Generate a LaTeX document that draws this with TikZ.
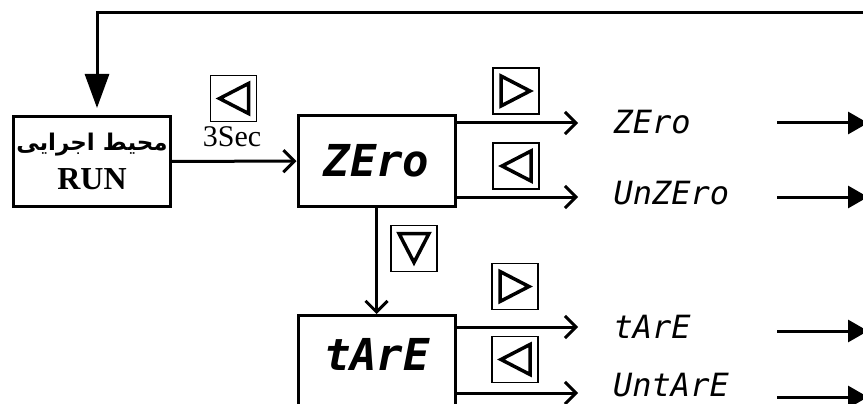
\documentclass[tikz,border=0pt]{standalone}
\usepackage{fontspec}
\setmainfont{Liberation Serif}
\newfontfamily\arabicfont[Script=Arabic]{DejaVu Sans}
\newfontfamily\segfont{DejaVu Sans Mono}
\TeXXeTstate=1
\usetikzlibrary{arrows.meta,positioning,calc}
\tikzset{
  >=Stealth,
  blk/.style={draw, line width=3pt, minimum width=157pt, minimum height=90pt, inner sep=0pt},
  btn/.style={draw, line width=1.5pt, minimum size=46pt, inner sep=0pt},
  tri/.style={line width=3.5pt, line join=miter},
  btnL/.style={btn, path picture={\draw[tri, shift={(path picture bounding box.center)}] (-14pt,0pt) -- (15pt,15pt) -- (15pt,-15pt) -- cycle;}},
  btnR/.style={btn, path picture={\draw[tri, shift={(path picture bounding box.center)}] (14pt,0pt) -- (-15pt,15pt) -- (-15pt,-15pt) -- cycle;}},
  btnD/.style={btn, path picture={\draw[tri, shift={(path picture bounding box.center)}] (0pt,-14pt) -- (-15pt,15pt) -- (15pt,15pt) -- cycle;}},
  conn/.style={line width=3pt, -{Straight Barb[length=11pt,width=22pt,line width=3pt]}},
  outarr/.style={line width=3pt, -{Triangle[length=20pt,width=22pt]}},
  seg/.style={font=\segfont\itshape\fontsize{32}{32}\selectfont},
  segbig/.style={font=\segfont\bfseries\itshape\fontsize{44}{44}\selectfont},
}
\begin{document}
\begin{tikzpicture}[x=1pt,y=-1pt]
    \useasboundingbox (0,0) rectangle (863,404);
    \clip (0,0) rectangle (863,404);

    % === Blocks ===
    \node[blk, align=center] (run) at (92,161.5)
        {{\arabicfont\bfseries\fontsize{23}{24}\selectfont\beginR محیط اجرایی\endR}\\[12pt]
         {\bfseries\fontsize{32}{32}\selectfont RUN}};
    \node[blk, segbig] (zero) at (376.5,161) {ZEro};
    \node[blk, anchor=north, minimum height=100pt,
          label={[segbig, yshift=11pt]center:tArE}] (tare) at (377,314) {};

    % === Keys ===
    \node[btnL] (bRun) at (233.5,98.5) {};
    \node[font=\fontsize{30}{30}\selectfont] (sec) at (232,137) {3Sec};
    \node[btnR] (bZeroR) at (516,91) {};
    \node[btnL] (bZeroL) at (516,166) {};
    \node[btnD] (bDown) at (414,248.5) {};
    \node[btnR] (bTareR) at (515,286.5) {};
    \node[btnL] (bTareL) at (515,359.5) {};

    % === Connectors ===
    \draw[conn] (run) -- (zero);
    \draw[conn] (zero.south) -- (zero.south |- tare.north);
    \coordinate (zA) at (578,123);
    \coordinate (zB) at (578,197);
    \coordinate (tA) at (578,327);
    \coordinate (tB) at (578,393);
    \draw[conn] (zero.east |- zA) -- (zA);
    \draw[conn] (zero.east |- zB) -- (zB);
    \draw[conn] (tare.east |- tA) -- (tA);
    \draw[conn] (tare.east |- tB) -- (tB);

    % === Sub menus ===
    \node[seg, anchor=west] (lZero) at (610,122) {ZEro};
    \node[seg, anchor=west] (lUnZero) at (610,193) {UnZEro};
    \node[seg, anchor=west] (lTare) at (610,327) {tArE};
    \node[seg, anchor=base west, inner sep=0pt, text depth=0pt] (lUnTare) at (613,396) {UntArE};
    \foreach \n/\y in {zA/123, zB/197, tA/331, tB/397} {
        \coordinate (\n s) at (777,\y);
        \coordinate (\n e) at (868,\y);
        \draw[outarr] (\n s) -- (\n e);
    }

    % === Back to RUN ===
    \coordinate (fb) at (880,13);
    \draw[line width=3pt, -{Triangle[length=34pt,width=24pt]}, shorten >=7pt]
        (fb) -| ([xshift=5pt]run.north);
\end{tikzpicture}
\end{document}
